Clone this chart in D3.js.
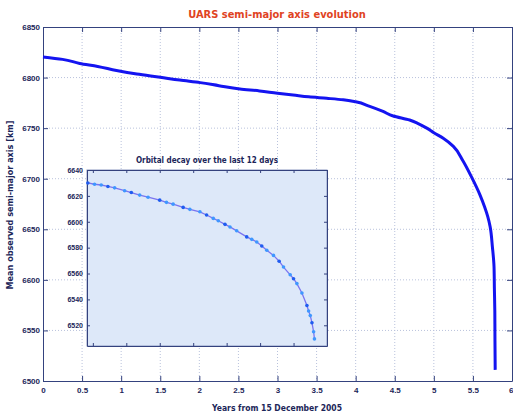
<!DOCTYPE html>
<html>
<head>
<meta charset="utf-8">
<script src="https://cdn.jsdelivr.net/npm/d3@7"></script>
<style>
  body { margin: 0; background: #fff; }
  svg { display: block; font-family: "Liberation Sans Narrow", "Arial Narrow", "DejaVu Sans Condensed", "Liberation Sans", Arial, sans-serif; }
  .axis path, .axis line { stroke: #34427e; }
  .axis text { fill: #1c2659; }
</style>
</head>
<body>
<svg id="chart"></svg>
<script>
// Main series: years from 15 Dec 2005 vs mean semi-major axis (km)
const years = [0, 0.25, 0.47, 0.7, 0.94, 1.2, 1.5, 1.75, 2.01, 2.25, 2.52, 2.77, 3.0, 3.2, 3.4, 3.63,
  3.84, 4.0, 4.18, 4.35, 4.48, 4.69, 4.8, 4.91, 5.0, 5.12, 5.25, 5.37, 5.48, 5.59, 5.65, 5.69,
  5.72, 5.75, 5.77, 5.775, 5.78, 5.782, 5.785];
const semiMajor = [6820.4, 6818, 6814, 6811, 6807, 6803.5, 6800.3, 6797.5, 6795, 6792, 6788.7, 6786.8,
  6784.5, 6782.8, 6781, 6779.5, 6778, 6776, 6771.5, 6766.5, 6762, 6758, 6754.5, 6750, 6745.5, 6740,
  6732, 6718, 6702, 6684, 6672, 6662.5, 6652.6, 6632, 6613, 6590, 6570, 6540, 6511];

// Inset series: last days before re-entry
const days = [-0.3, 0.1, 0.5, 0.9, 1.3, 1.9, 2.3, 2.8, 3.3, 4.0, 4.4, 4.8, 5.4, 5.8, 6.4, 6.8, 7.2,
  7.5, 7.9, 8.2, 8.6, 9.2, 9.5, 9.8, 10.1, 10.4, 10.8, 11.14, 11.4, 11.8, 12.0, 12.2, 12.5, 12.8,
  12.9, 13.0, 13.1, 13.2, 13.25];
const insetSma = [6630, 6629, 6628.4, 6627.3, 6626.2, 6624, 6622.6, 6620.6, 6619, 6616.7, 6615,
  6613.6, 6611.1, 6609.6, 6607.7, 6605.2, 6602.6, 6600.8, 6598, 6596, 6593, 6588.3, 6586.4,
  6584.4, 6581.3, 6578, 6574, 6569.5, 6565, 6559, 6556, 6552.2, 6545, 6535.3, 6531, 6527.5,
  6522, 6515, 6509.5];

// Tick values
const xTicks = [0, 0.5, 1, 1.5, 2, 2.5, 3, 3.5, 4, 4.5, 5, 5.5, 6];
const yTicks = [6500, 6550, 6600, 6650, 6700, 6750, 6800, 6850];
const insetXTicks = [0, 2, 4, 6, 8, 10, 12, 14];
const insetYTicks = [6520, 6540, 6560, 6580, 6600, 6620, 6640];

const WIDTH = 513, HEIGHT = 415;
const svg = d3.select('#chart').attr('width', WIDTH).attr('height', HEIGHT);

const x = d3.scaleLinear().domain([0, 6]).range([43, 512]);
const y = d3.scaleLinear().domain([6500, 6850]).range([381, 27]);
const fmt = d3.format('');

// Grid lines (dotted)
const grid = svg.append('g').attr('stroke', '#b9c2dc').attr('stroke-width', 1).attr('stroke-dasharray', '1,2');
grid.selectAll('.gx').data(xTicks.slice(1, -1)).enter().append('line')
  .attr('x1', d => x(d)).attr('x2', d => x(d)).attr('y1', y.range()[1]).attr('y2', y.range()[0]);
grid.selectAll('.gy').data(yTicks.slice(1, -1)).enter().append('line')
  .attr('y1', d => y(d)).attr('y2', d => y(d)).attr('x1', x.range()[0]).attr('x2', x.range()[1]);

// Main axes (inward ticks, MATLAB style)
svg.append('g').attr('class', 'axis').attr('transform', `translate(0,${y.range()[0]})`)
  .call(d3.axisBottom(x).tickValues(xTicks).tickFormat(fmt).tickSizeInner(-5).tickSizeOuter(0).tickPadding(6))
  .call(g => g.selectAll('text').attr('font-size', 8).attr('font-weight', 'bold'))
  .call(g => g.selectAll('.tick:last-of-type text').attr('text-anchor', 'end').attr('x', 1));
svg.append('g').attr('class', 'axis').attr('transform', `translate(0,${y.range()[1]})`)
  .call(d3.axisTop(x).tickValues(xTicks).tickSizeInner(-5).tickSizeOuter(0).tickFormat(''));
svg.append('g').attr('class', 'axis').attr('transform', `translate(${x.range()[0]},0)`)
  .call(d3.axisLeft(y).tickValues(yTicks).tickFormat(fmt).tickSizeInner(-5).tickSizeOuter(0).tickPadding(3))
  .call(g => g.selectAll('text').attr('font-size', 8).attr('font-weight', 'bold'));
svg.append('g').attr('class', 'axis').attr('transform', `translate(${x.range()[1]},0)`)
  .call(d3.axisRight(y).tickValues(yTicks).tickSizeInner(-5).tickSizeOuter(0).tickFormat(''));

// Main curve
svg.append('path')
  .datum(years.map((d, i) => [d, semiMajor[i]]))
  .attr('fill', 'none')
  .attr('stroke', '#1414f0')
  .attr('stroke-width', 3)
  .attr('stroke-linejoin', 'round')
  .attr('d', d3.line().x(d => x(d[0])).y(d => y(d[1])).curve(d3.curveMonotoneY));

// Titles
svg.append('text').attr('x', 277).attr('y', 18).attr('text-anchor', 'middle')
  .attr('font-size', 11).attr('font-weight', 'bold').attr('fill', '#e0431f')
  .text('UARS semi-major axis evolution');
svg.append('text').attr('x', 277).attr('y', 411).attr('text-anchor', 'middle')
  .attr('font-size', 8.5).attr('font-weight', 'bold').attr('fill', '#1c2659')
  .text('Years from 15 December 2005');
svg.append('text').attr('transform', 'translate(13,205) rotate(-90)').attr('text-anchor', 'middle')
  .attr('font-size', 9).attr('font-weight', 'bold').attr('fill', '#1c2659')
  .text('Mean observed semi-major axis [km]');

// Inset
const xi = d3.scaleLinear().domain([-0.35, 14]).range([87, 327]);
const yi = d3.scaleLinear().domain([6504, 6640]).range([346, 170]);
const inset = svg.append('g');

inset.append('rect')
  .attr('x', xi.range()[0]).attr('y', yi.range()[1])
  .attr('width', xi.range()[1] - xi.range()[0]).attr('height', yi.range()[0] - yi.range()[1])
  .attr('fill', '#dde8f9').attr('stroke', '#8d9ac2');

inset.append('g').attr('class', 'axis').attr('transform', `translate(0,${yi.range()[0]})`)
  .call(d3.axisBottom(xi).tickValues(insetXTicks).tickSizeInner(-3).tickSizeOuter(0).tickFormat(''));
inset.append('g').attr('class', 'axis').attr('transform', `translate(0,${yi.range()[1]})`)
  .call(d3.axisTop(xi).tickValues(insetXTicks).tickSizeInner(-3).tickSizeOuter(0).tickFormat(''));
inset.append('g').attr('class', 'axis').attr('transform', `translate(${xi.range()[0]},0)`)
  .call(d3.axisLeft(yi).tickValues(insetYTicks).tickFormat(fmt).tickSizeInner(-3).tickSizeOuter(0).tickPadding(4))
  .call(g => g.selectAll('text').attr('font-size', 7).attr('font-weight', 'bold'));
inset.append('g').attr('class', 'axis').attr('transform', `translate(${xi.range()[1]},0)`)
  .call(d3.axisRight(yi).tickValues(insetYTicks).tickSizeInner(-3).tickSizeOuter(0).tickFormat(''));
inset.selectAll('.axis path').attr('stroke', '#8d9ac2');

const insetData = days.map((d, i) => [d, insetSma[i]]);
inset.append('path')
  .datum(insetData)
  .attr('fill', 'none')
  .attr('stroke', '#7a74f0')
  .attr('stroke-width', 1.3)
  .attr('d', d3.line().x(d => xi(d[0])).y(d => yi(d[1])));

inset.selectAll('.pt')
  .data(insetData)
  .enter().append('circle')
  .attr('cx', d => xi(d[0]))
  .attr('cy', d => yi(d[1]))
  .attr('r', 1.8)
  .attr('fill', (d, i) => i % 3 === 0 ? '#1f5cf0' : '#3f97ff');

inset.append('text').attr('x', 207).attr('y', 163).attr('text-anchor', 'middle')
  .attr('font-size', 8).attr('font-weight', 'bold').attr('fill', '#1c2659')
  .text('Orbital decay over the last 12 days');
</script>
</body>
</html>
